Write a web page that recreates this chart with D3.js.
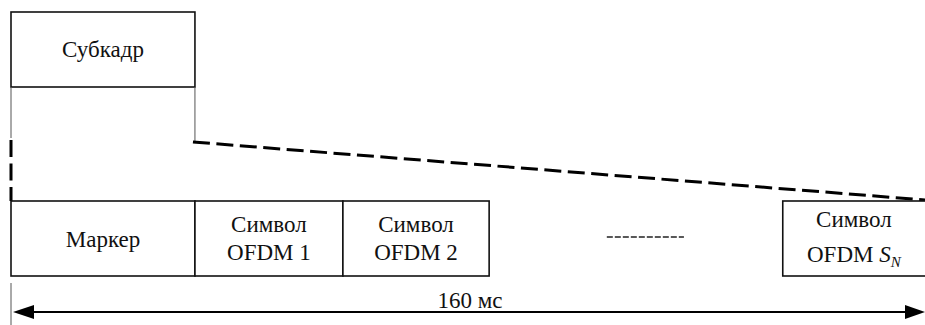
<!DOCTYPE html>
<html>
<head>
<meta charset="utf-8">
<script src="https://cdn.jsdelivr.net/npm/d3@7"></script>
<style>
  html, body { margin: 0; padding: 0; background: #fff; }
</style>
</head>
<body>
<svg id="chart" width="925" height="325"></svg>
<script>
// временная шкала кадра, мс
const totalMs = 160;
const segLabels = [['Маркер'], ['Символ', 'OFDM 1'], ['Символ', 'OFDM 2'], ['Символ', 'OFDM S_N']];
const segStart = [0, 32.2, 58.1, 135.1];
const segEnd = [32.2, 58.1, 83.7, 162];
const gapDots = [104.3, 117.8]; // "---------" между символами
const subframeLabel = 'Субкадр';
const durationLabel = '160 мс';

const FONT = '"Liberation Serif"';
const FS = 23;

const svg = d3.select('#chart');
const x = d3.scaleLinear().domain([0, totalMs]).range([11, 925]);

const rowTop = 201, rowBot = 276;
const subTop = 12, subBot = 87;

const label = (sel) => sel.style('font-family', FONT).style('font-size', FS + 'px')
    .attr('text-anchor', 'middle').attr('fill', '#111');

// субкадр
svg.append('rect')
    .attr('x', x(segStart[0])).attr('y', subTop)
    .attr('width', x(segEnd[0]) - x(segStart[0])).attr('height', subBot - subTop)
    .attr('fill', 'none').attr('stroke', '#111').attr('stroke-width', 1.6);
svg.append('text')
    .attr('x', (x(segStart[0]) + x(segEnd[0])) / 2).attr('y', 57)
    .call(label)
    .text(subframeLabel);

// тонкие выноски
svg.append('line').attr('x1', x(0)).attr('x2', x(0)).attr('y1', subBot).attr('y2', 138)
    .attr('stroke', '#555').attr('stroke-width', 1);
svg.append('line').attr('x1', x(segEnd[0])).attr('x2', x(segEnd[0])).attr('y1', subBot).attr('y2', 141)
    .attr('stroke', '#555').attr('stroke-width', 1);

// пунктирные выноски
svg.append('line').attr('x1', x(0)).attr('x2', x(0)).attr('y1', 140).attr('y2', rowTop)
    .attr('stroke', '#000').attr('stroke-width', 3).attr('stroke-dasharray', '17,6.5');
svg.append('line').attr('x1', x(segEnd[0]) - 2).attr('x2', x(totalMs)).attr('y1', 142).attr('y2', 200)
    .attr('stroke', '#000').attr('stroke-width', 3).attr('stroke-dasharray', '17,6.5');

// ячейки кадра
const segs = segLabels.map((l, i) => ({ lines: l, s: segStart[i], e: segEnd[i] }));
svg.selectAll('rect.seg').data(segs).join('rect')
    .attr('class', 'seg')
    .attr('x', (d) => x(d.s)).attr('y', rowTop)
    .attr('width', (d) => x(d.e) - x(d.s)).attr('height', rowBot - rowTop)
    .attr('fill', '#fff').attr('stroke', '#111').attr('stroke-width', 1.6);

segs.forEach((d, i) => {
    const cx = (x(d.s) + Math.min(x(d.e), 925)) / 2;
    const base = d.lines.length === 1 ? [247] : (i === 3 ? [227, 262] : [232, 260]);
    d.lines.forEach((t, j) => {
        const txt = svg.append('text')
            .attr('x', cx).attr('y', base[j])
            .call(label);
        if (t.endsWith('S_N')) {
            txt.append('tspan').text(t.replace('S_N', ''));
            txt.append('tspan').style('font-style', 'italic').text('S');
            txt.append('tspan').style('font-style', 'italic').style('font-size', '15px')
                .attr('dy', 5).text('N');
        } else {
            txt.text(t);
        }
    });
});

svg.append('line').attr('x1', x(gapDots[0])).attr('x2', x(gapDots[1])).attr('y1', 237).attr('y2', 237)
    .attr('stroke', '#222').attr('stroke-width', 1.3).attr('stroke-dasharray', '6,2');

// стрелка длительности
svg.append('line').attr('x1', x(0)).attr('x2', x(0)).attr('y1', 283).attr('y2', 325)
    .attr('stroke', '#555').attr('stroke-width', 1);
const arrowY = 312;
svg.append('line').attr('x1', x(0) + 10).attr('x2', x(totalMs) - 10).attr('y1', arrowY).attr('y2', arrowY)
    .attr('stroke', '#000').attr('stroke-width', 2.2);
svg.append('path')
    .attr('d', `M${x(0) + 2},${arrowY} L${x(0) + 23},${arrowY - 7} L${x(0) + 23},${arrowY + 7} Z`)
    .attr('fill', '#000');
svg.append('path')
    .attr('d', `M${x(totalMs)},${arrowY} L${x(totalMs) - 20},${arrowY - 7} L${x(totalMs) - 20},${arrowY + 7} Z`)
    .attr('fill', '#000');
svg.append('text')
    .attr('x', 470).attr('y', 308)
    .call(label)
    .text(durationLabel);
</script>
</body>
</html>
